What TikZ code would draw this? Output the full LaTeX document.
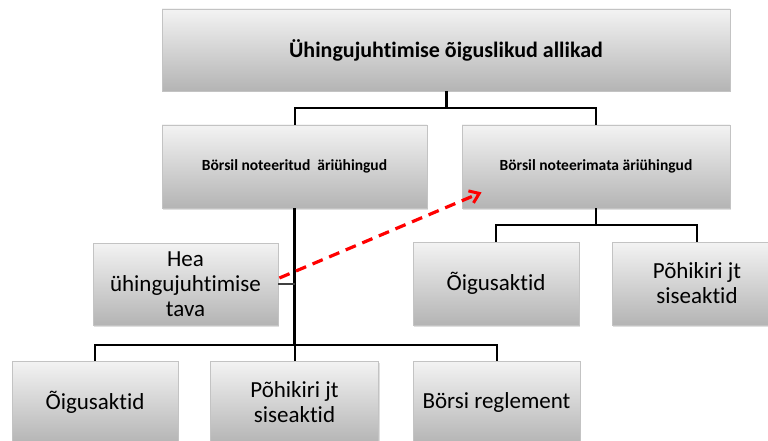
\documentclass[tikz,border=0pt]{standalone}
\usepackage{fontspec}
\setmainfont{Carlito}[Ligatures=NoCommon]
\usetikzlibrary{shadows,arrows.meta,calc}
\definecolor{boxtop}{RGB}{243,243,243}
\definecolor{boxbot}{RGB}{180,180,180}
\definecolor{boxline}{RGB}{195,195,195}
\definecolor{linkred}{RGB}{255,0,0}
\tikzset{
  box/.style={rectangle, draw=boxline, line width=0.8pt,
    top color=boxtop, bottom color=boxbot, align=center,
    inner sep=2pt,
    drop shadow={opacity=0.25, shadow xshift=1.2pt, shadow yshift=-1.5pt}},
  headtxt/.style={font=\fontsize{22}{26}\selectfont\bfseries},
  subtxt/.style={font=\fontsize{15.5}{18}\selectfont\bfseries},
  leaftxt/.style={font=\fontsize{23}{25}\selectfont},
  link/.style={draw=black, line width=2pt},
  spine/.style={draw=black, line width=3.5pt},
  thin link/.style={draw=black!75, line width=2pt},
  hint/.style={draw=linkred, line width=3.2pt, dash pattern=on 11pt off 7pt,
    -{Straight Barb[length=9pt,width=13pt,line width=3pt]}}
}
\begin{document}
\begin{tikzpicture}[x=1pt,y=-1pt]
\useasboundingbox (0,0) rectangle (768,441);
\clip (0,0) rectangle (768,441);

% boxes
\node[box, headtxt, minimum width=568pt, minimum height=82pt] (top) at (446,50) {Ühingujuhtimise õiguslikud allikad};
\node[box, subtxt, minimum width=265pt, minimum height=83pt] (l2a) at (294.5,166.5) {Börsil noteeritud\ \ äriühingud};
\node[box, subtxt, minimum width=268pt, minimum height=83pt] (l2b) at (596,166.5) {Börsil noteerimata äriühingud};
\node[box, leaftxt, minimum width=185pt, minimum height=82pt] (hea) at (185.5,284) {Hea\\ühingujuhtimise\\tava};
\node[box, leaftxt, minimum width=166pt, minimum height=83pt] (r1) at (496,283.5) {Õigusaktid};
\node[box, leaftxt, minimum width=170pt, minimum height=83pt] (r2) at (697,283.5) {Põhikiri jt\\siseaktid};
\node[box, leaftxt, minimum width=166pt, minimum height=83pt] (b1) at (95,402.5) {Õigusaktid};
\node[box, leaftxt, minimum width=168pt, minimum height=83pt] (b2) at (294.5,402.5) {Põhikiri jt\\siseaktid};
\node[box, leaftxt, minimum width=167pt, minimum height=83pt] (b3) at (496.5,402.5) {Börsi reglement};

% top level branch
\draw[spine, line width=3pt] (top.south) -- ++(0,17) coordinate (tj);
\draw[link] (l2a.north) |- (tj) -| (l2b.north);

% listed companies branch
\draw[spine] (l2a.south) -- ++(0,137) coordinate (bj);
\draw[link] (b1.north) |- (bj) -| (b3.north);
\draw[link] (b2.north) -- (bj);
\draw[thin link] (hea.east) -- (hea.east -| l2a.south);

% unlisted companies branch
\draw[link] (l2b.south) -- ++(0,17) coordinate (rj);
\draw[link] (r1.north) |- (rj) -| (r2.north);

% code of good practice also applies to unlisted companies
\draw[hint] ($(hea.east)+(1,-6)$) -- ($(l2b.south west)+(20,-16)$);
\end{tikzpicture}
\end{document}
